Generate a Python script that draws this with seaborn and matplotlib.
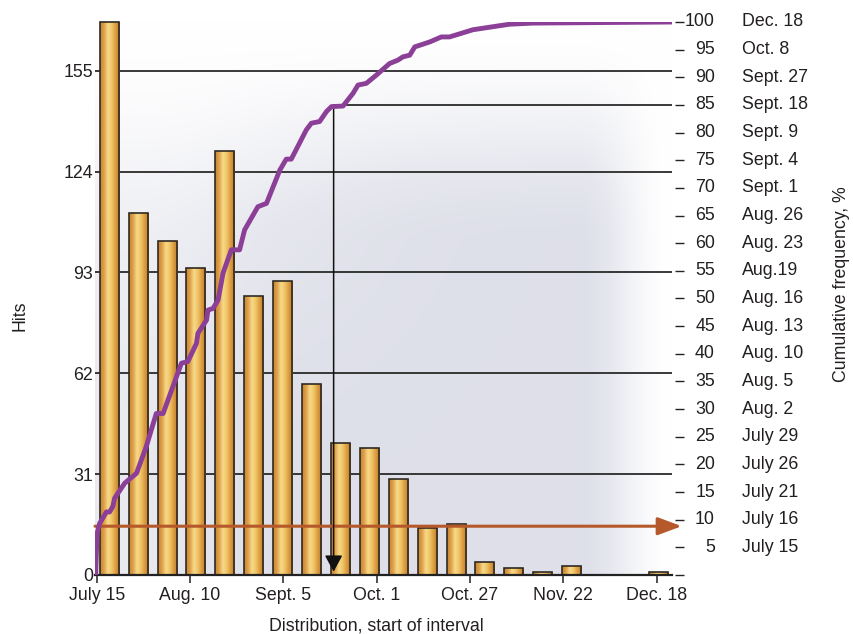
import numpy as np
import pandas as pd
import matplotlib
matplotlib.use("Agg")
import matplotlib.pyplot as plt
import seaborn as sns
from matplotlib.colors import LinearSegmentedColormap
from matplotlib.transforms import blended_transform_factory

# Hits per distribution interval (intervals start July 15)
hits = [170, 111.4, 102.8, 94.3, 130.4, 85.7, 90.3, 58.8, 40.6, 38.9,
        29.4, 14.6, 15.8, 3.9, 2.3, 0.8, 2.7, 0, 0, 0.8]
interval_days = 8.05
first_center = 3.5

# Cumulative frequency (%) against days since July 15
cum_day = [-0.3, 0.1, 0.8, 2.7, 3.6, 4.5, 5.0, 7.8, 11.1, 13.8, 16.6, 18.5,
           23.6, 25.4, 27.8, 28.2, 30.6, 31.0, 32.4, 33.8, 35.2, 37.5, 39.8,
           41.2, 44.9, 47.3, 51.0, 52.8, 54.2, 58.4, 59.8, 62.1, 64.0, 65.4,
           68.6, 71.4, 72.8, 75.1, 77.9, 81.6, 83.9, 85.3, 87.2, 88.6, 92.8,
           96.0, 98.3, 104.8, 115.0, 121.4, 160.4]
cum_pct = [0, 7.5, 9.3, 11.4, 11.4, 12.4, 13.9, 16.6, 18.4, 23.2, 29.2, 29.2,
           38.3, 38.6, 41.9, 43.7, 46.1, 47.9, 48.2, 49.7, 54.6, 58.8, 58.8,
           62.4, 66.6, 67.2, 73.2, 75.2, 75.2, 80.5, 81.7, 82.0, 83.8, 84.7,
           84.8, 87.1, 88.6, 88.9, 90.4, 92.5, 93.1, 93.7, 94.0, 95.5, 96.4,
           97.3, 97.3, 98.6, 99.6, 99.8, 100]

x_tick_days = [0, 26, 52, 78, 104, 130, 156]
x_tick_labels = ["July 15", "Aug. 10", "Sept. 5", "Oct. 1", "Oct. 27",
                 "Nov. 22", "Dec. 18"]
hits_ticks = [0, 31, 62, 93, 124, 155]
pct_ticks = list(range(0, 101, 5))
pct_dates = ["", "July 15", "July 16", "July 21", "July 26", "July 29",
             "Aug. 2", "Aug. 5", "Aug. 10", "Aug. 13", "Aug. 16", "Aug.19",
             "Aug. 23", "Aug. 26", "Sept. 1", "Sept. 4", "Sept. 9",
             "Sept. 18", "Sept. 27", "Oct. 8", "Dec. 18"]
threshold_hits = 15
target_pct = 85
target_day = 66

X_MIN, X_MAX = -0.47, 160.25
INK = "#231f20"
FS = 12.8


def smoothstep(e0, e1, v):
    t = np.clip((v - e0) / (e1 - e0), 0, 1)
    return t * t * (3 - 2 * t)


sns.set_theme(style="white")
plt.rcParams["font.family"] = ["Liberation Sans", "DejaVu Sans"]
plt.rcParams["font.size"] = FS

fig = plt.figure(figsize=(8.54, 6.34), dpi=100)
ax = fig.add_axes([0.11124, 0.09306, 0.67564, 0.87224])
ax.set_autoscale_on(False)
ax.set_xlim(X_MIN, X_MAX)
ax.set_ylim(0, 170)

# soft lavender backdrop, white toward the top and the right edge
gx, gy = np.meshgrid(np.linspace(0, 1, 400), np.linspace(0, 1, 400))
fy = smoothstep(1.0, 0.6, gy)
fx = smoothstep(1.0, 0.84, gx) * (0.65 + 0.35 * smoothstep(0.0, 0.35, gx))
glow = 1 - 0.45 * np.exp(-((gx - 0.15) ** 2 / 0.09 + (gy - 0.85) ** 2 / 0.12))
w = np.clip(fy * fx * glow, 0, 1)
lav = np.array([0.872, 0.878, 0.915])
bg = 1 - w[..., None] * (1 - lav)
ax.imshow(bg, extent=[0, 1, 0, 1], transform=ax.transAxes, origin="lower",
          aspect="auto", zorder=0, interpolation="bilinear")

# bars
centers = first_center + interval_days * np.arange(len(hits))
df = pd.DataFrame({"day": centers, "hits": hits})
sns.barplot(data=df, x="day", y="hits", native_scale=True, width=0.66,
            errorbar=None, ax=ax, color="#e0a84a", edgecolor="#2e2a25",
            linewidth=1.2, zorder=3)

gold = LinearSegmentedColormap.from_list(
    "gold", ["#c8842c", "#dea04a", "#f7da88", "#f0c466", "#d99a3f", "#bf7726"],
)
grad = np.linspace(0, 1, 128).reshape(1, -1)
for p in list(ax.patches):
    x0, y0, bw, bh = p.get_x(), p.get_y(), p.get_width(), p.get_height()
    p.set_clip_on(False)
    if bh <= 0:
        p.set_visible(False)
        continue
    im = ax.imshow(grad, cmap=gold, extent=[x0, x0 + bw, y0, y0 + bh],
                   aspect="auto", origin="lower", zorder=2.9,
                   interpolation="bicubic")
    im.set_clip_path(p)
    p.set_facecolor("none")

# horizontal rules at hit levels
for v in hits_ticks[1:]:
    ax.axhline(v, color="#2a2a2a", lw=1.3, zorder=1)

# threshold arrow
ax.annotate("", xy=(162.95, threshold_hits), xytext=(X_MIN, threshold_hits),
            arrowprops=dict(arrowstyle="-|>,head_length=1.45,head_width=0.54",
                            color="#b5592a", lw=2.2, shrinkA=0, shrinkB=0,
                            mutation_scale=10),
            annotation_clip=False, zorder=5)

ax.set_xticks(x_tick_days, labels=x_tick_labels)
ax.set_yticks(hits_ticks, labels=[str(v) for v in hits_ticks])
ax.set_xlabel("")
ax.set_ylabel("")
ax.tick_params(axis="x", direction="out", bottom=True, length=6, width=1.1,
               pad=3, colors="#222", labelcolor=INK, labelsize=FS)
ax.tick_params(axis="y", length=0, pad=1.5, labelcolor=INK, labelsize=FS)
for s in ["left", "top", "right"]:
    ax.spines[s].set_visible(False)
ax.spines["bottom"].set_linewidth(1.6)
ax.spines["bottom"].set_color("#222")
ax.spines["bottom"].set_zorder(6)
ax.set_xlim(X_MIN, X_MAX)
ax.set_ylim(0, 170)

# cumulative frequency axis
ax2 = ax.twinx()
ax2.set_ylim(0, 100)
ax2.plot([target_day, X_MAX], [target_pct, target_pct], color="#2a2a2a",
         lw=1.3, zorder=2)
ax2.annotate("", xy=(target_day, 0.6), xytext=(target_day, target_pct),
             arrowprops=dict(arrowstyle="-|>,head_length=1.0,head_width=0.54",
                             color="#111", lw=1.1, shrinkA=0, shrinkB=0,
                             mutation_scale=10), zorder=3)
sns.lineplot(x=cum_day, y=cum_pct, ax=ax2, color="#8b3f97", lw=3.5,
             estimator=None, sort=False, solid_joinstyle="round",
             solid_capstyle="butt", zorder=4)
ax2.set_xlim(X_MIN, X_MAX)
ax2.set_ylim(0, 100)
ax2.set_ylabel("")
ax2.set_yticks(pct_ticks)
ax2.set_yticklabels([])
for s in ["left", "top", "bottom"]:
    ax2.spines[s].set_visible(False)
ax2.spines["right"].set_position(("outward", 2.2))
ax2.spines["right"].set_visible(False)
ax2.tick_params(axis="y", right=True, direction="out", length=6.5, width=1.0,
                colors="#222")

tr = blended_transform_factory(ax2.transAxes, ax2.transData)
for v, lab in zip(pct_ticks, pct_dates):
    if v:
        ax2.text(1.0745, v, str(v), transform=tr, ha="right", va="center",
                 fontsize=FS, color=INK)
    if lab:
        ax2.text(1.121, v, lab, transform=tr, ha="left", va="center",
                 fontsize=FS, color=INK)

fig.text(20 / 854, 1 - 316 / 634, "Hits", rotation=90, ha="center",
         va="center", fontsize=FS, color=INK)
fig.text(842 / 854, 1 - 284 / 634, "Cumulative frequency, %", rotation=90,
         ha="center", va="center", fontsize=FS, color=INK)
fig.text(376.7 / 854, 1 - 626 / 634, "Distribution, start of interval",
         ha="center", va="center", fontsize=FS, color=INK)

fig.savefig("out.png", dpi=100, facecolor="white")
